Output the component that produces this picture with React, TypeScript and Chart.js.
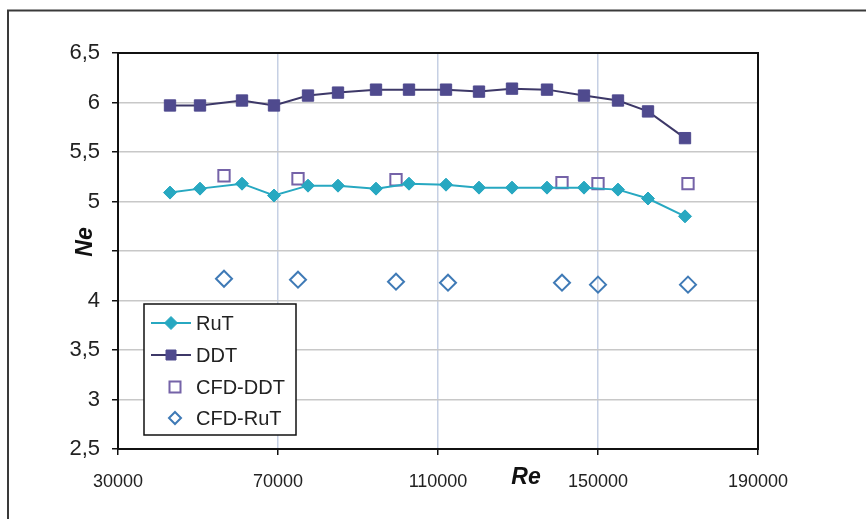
import React, { useEffect, useRef } from "react";
import { Chart, registerables } from "chart.js";

Chart.register(...registerables);

// Experimental Reynolds numbers (shared by RuT and DDT)
const reExp = [43000, 50500, 61000, 69000, 77500, 85000, 94500, 102750, 112000, 120250, 128500, 137250, 146500, 155000, 162500, 171750];
const ruT = [5.09, 5.13, 5.18, 5.06, 5.16, 5.16, 5.13, 5.18, 5.17, 5.14, 5.14, 5.14, 5.14, 5.12, 5.03, 4.85];
const ddt = [5.97, 5.97, 6.02, 5.97, 6.07, 6.10, 6.13, 6.13, 6.13, 6.11, 6.14, 6.13, 6.07, 6.02, 5.91, 5.64];

const reCfdDdt = [56500, 75000, 99500, 141000, 150000, 172500];
const cfdDdt = [5.26, 5.23, 5.22, 5.19, 5.18, 5.18];

const reCfdRuT = [56500, 75000, 99500, 112500, 141000, 150000, 172500];
const cfdRuT = [4.22, 4.21, 4.19, 4.18, 4.18, 4.16, 4.16];

const xTicks = [30000, 70000, 110000, 150000, 190000];
const xTickLabels = ["30000", "70000", "110000", "150000", "190000"];
const yTicks = [2.5, 3, 3.5, 4, 4.5, 5, 5.5, 6, 6.5];
// the 4,5 label is covered by the axis title in the original
const yTickLabels = ["2,5", "3", "3,5", "4", "", "5", "5,5", "6", "6,5"];

const seriesNames = ["RuT", "DDT", "CFD-DDT", "CFD-RuT"];
const xTitle = "Re";
const yTitle = "Ne";

const TEAL = "#27a8c1";
const DDT_FILL = "#4f4a8e";
const DDT_LINE = "#3d3868";
const CFD_DDT = "#7563a8";
const CFD_RUT = "#3f7ab6";

const toPts = (xs: number[], ys: number[]) => xs.map((x, i) => ({ x, y: ys[i] }));

const decorPlugin = {
  id: "decor",
  beforeDraw(chart: any) {
    const ctx = chart.ctx;
    ctx.save();
    ctx.fillStyle = "#ffffff";
    ctx.fillRect(0, 0, chart.width, chart.height);
    ctx.restore();
  },
  afterDraw(chart: any) {
    const ctx = chart.ctx;
    const a = chart.chartArea;
    ctx.save();
    // outer frame
    ctx.strokeStyle = "#3a3a3a";
    ctx.lineWidth = 2;
    ctx.beginPath();
    ctx.moveTo(8, chart.height + 5);
    ctx.lineTo(8, 10.5);
    ctx.lineTo(chart.width + 5, 10.5);
    ctx.stroke();
    // plot box
    ctx.strokeStyle = "#111111";
    ctx.lineWidth = 2;
    ctx.strokeRect(a.left, a.top, a.right - a.left, a.bottom - a.top);
    // axis titles
    ctx.fillStyle = "#111111";
    ctx.font = "italic bold 23px 'Liberation Sans', Arial, sans-serif";
    ctx.textAlign = "center";
    ctx.textBaseline = "middle";
    ctx.fillText(xTitle, 526, 478);
    ctx.translate(86, 242);
    ctx.rotate(-Math.PI / 2);
    ctx.fillText(yTitle, 0, 0);
    ctx.restore();

    // legend
    ctx.save();
    const lx = 144, ly = 304, lw = 152, lh = 131;
    ctx.fillStyle = "#ffffff";
    ctx.fillRect(lx, ly, lw, lh);
    ctx.strokeStyle = "#111111";
    ctx.lineWidth = 1.5;
    ctx.strokeRect(lx, ly, lw, lh);
    const rows = [323, 355, 387, 418];
    ctx.font = "20px 'Liberation Sans', Arial, sans-serif";
    ctx.textAlign = "left";
    ctx.textBaseline = "middle";
    rows.forEach((y, i) => {
      const ds = chart.data.datasets[i];
      if (i < 2) {
        ctx.strokeStyle = ds.borderColor;
        ctx.lineWidth = 2;
        ctx.beginPath();
        ctx.moveTo(151, y);
        ctx.lineTo(191, y);
        ctx.stroke();
      }
      const cx = i < 2 ? 171 : 175;
      ctx.lineWidth = i < 2 ? 1 : 2;
      ctx.strokeStyle = ds.pointBorderColor;
      ctx.fillStyle = ds.pointBackgroundColor;
      ctx.beginPath();
      if (ds.pointStyle === "rect") {
        const h = i < 2 ? 5 : 5.5;
        ctx.rect(cx - h, y - h, 2 * h, 2 * h);
      } else {
        const r = i < 2 ? 6.5 : 6;
        ctx.moveTo(cx, y - r);
        ctx.lineTo(cx + r, y);
        ctx.lineTo(cx, y + r);
        ctx.lineTo(cx - r, y);
        ctx.closePath();
      }
      ctx.fill();
      ctx.stroke();
      ctx.fillStyle = "#222222";
      ctx.fillText(seriesNames[i], 196, y + 1);
    });
    ctx.restore();
  },
};

export default function App() {
  const ref = useRef<HTMLCanvasElement | null>(null);
  useEffect(() => {
    if (!ref.current) return;
    const chart = new Chart(ref.current, {
      type: "line",
      data: {
        datasets: [
          {
            label: seriesNames[0],
            data: toPts(reExp, ruT),
            borderColor: TEAL,
            backgroundColor: TEAL,
            borderWidth: 2,
            pointStyle: "rectRot",
            pointRadius: 6.5,
            pointBackgroundColor: TEAL,
            pointBorderColor: TEAL,
            pointBorderWidth: 1,
            showLine: true,
            tension: 0,
          },
          {
            label: seriesNames[1],
            data: toPts(reExp, ddt),
            borderColor: DDT_LINE,
            backgroundColor: DDT_FILL,
            borderWidth: 2,
            pointStyle: "rect",
            pointRadius: 8,
            pointBackgroundColor: DDT_FILL,
            pointBorderColor: DDT_FILL,
            pointBorderWidth: 1,
            showLine: true,
            tension: 0,
          },
          {
            label: seriesNames[2],
            data: toPts(reCfdDdt, cfdDdt),
            borderColor: CFD_DDT,
            backgroundColor: "#ffffff",
            showLine: false,
            pointStyle: "rect",
            pointRadius: 8,
            pointBackgroundColor: "rgba(255,255,255,0)",
            pointBorderColor: CFD_DDT,
            pointBorderWidth: 2,
          },
          {
            label: seriesNames[3],
            data: toPts(reCfdRuT, cfdRuT),
            borderColor: CFD_RUT,
            backgroundColor: "#ffffff",
            showLine: false,
            pointStyle: "rectRot",
            pointRadius: 8,
            pointBackgroundColor: "rgba(255,255,255,0)",
            pointBorderColor: CFD_RUT,
            pointBorderWidth: 2,
          },
        ],
      },
      options: {
        responsive: false,
        animation: false,
        layout: { padding: { top: 53, right: 108, left: 0, bottom: 0 } },
        plugins: { legend: { display: false }, tooltip: { enabled: false } },
        scales: {
          x: {
            type: "linear",
            min: 30000,
            max: 190000,
            afterBuildTicks: (s: any) => {
              s.ticks = xTicks.map((v) => ({ value: v }));
            },
            afterFit: (s: any) => {
              s.height = 70;
            },
            ticks: {
              callback: (_v: any, i: number) => xTickLabels[i],
              font: { family: "'Liberation Sans', Arial, sans-serif", size: 18 },
              color: "#222222",
              padding: 16,
              maxRotation: 0,
              autoSkip: false,
            },
            grid: {
              color: "#c6d0e4",
              lineWidth: 1.5,
              tickColor: "#111111",
              tickLength: 6,
              tickWidth: 1.5,
            },
            border: { color: "#111111", width: 2 },
          },
          y: {
            type: "linear",
            min: 2.5,
            max: 6.5,
            afterBuildTicks: (s: any) => {
              s.ticks = yTicks.map((v) => ({ value: v }));
            },
            afterFit: (s: any) => {
              s.width = 118;
            },
            ticks: {
              callback: (_v: any, i: number) => yTickLabels[i],
              font: { family: "'Liberation Sans', Arial, sans-serif", size: 22 },
              color: "#222222",
              padding: 12,
              autoSkip: false,
            },
            grid: {
              color: "#c8c8c8",
              lineWidth: 1.5,
              tickColor: "#111111",
              tickLength: 6,
              tickWidth: 1.5,
            },
            border: { color: "#111111", width: 2 },
          },
        },
      },
      plugins: [decorPlugin],
    });
    return () => chart.destroy();
  }, []);
  return (
    <div style={{ position: "absolute", left: 0, top: 0, width: 866, height: 519, background: "#fff" }}>
      <canvas ref={ref} width={866} height={519} style={{ display: "block" }} />
    </div>
  );
}
